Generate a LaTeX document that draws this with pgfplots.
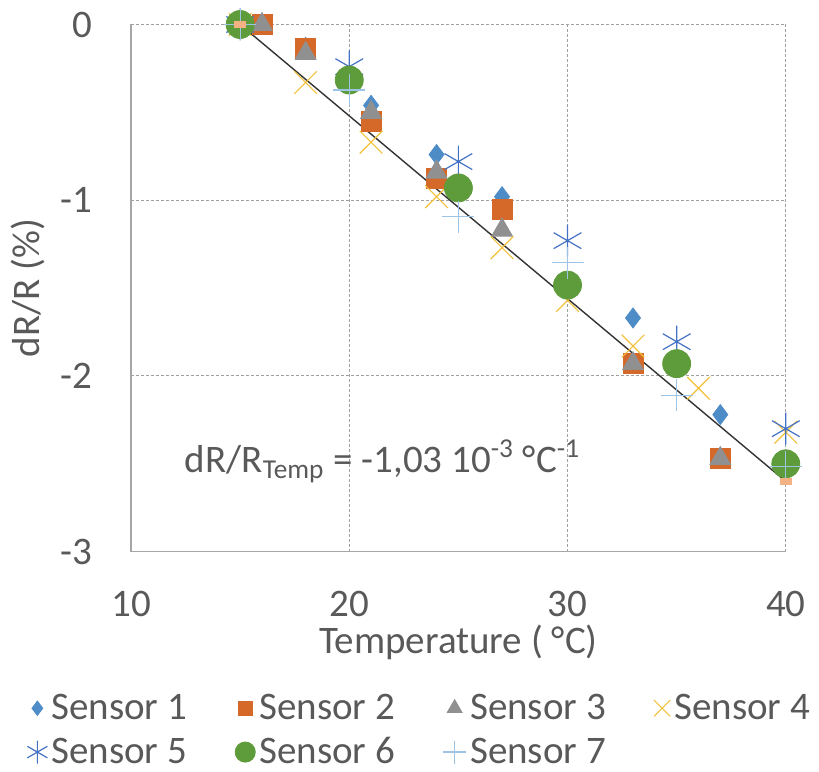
\documentclass[border=0pt]{standalone}
\usepackage{pgfplots}
\pgfplotsset{compat=1.18}
\usepackage{fontspec}
\setmainfont{Carlito}
\definecolor{txt}{HTML}{595959}
\definecolor{cA}{HTML}{4E8CC8}
\definecolor{cB}{HTML}{D5692A}
\definecolor{cC}{HTML}{909090}
\definecolor{cD}{HTML}{F2C03A}
\definecolor{cE}{HTML}{4472C4}
\definecolor{cF}{HTML}{5E9B3A}
\definecolor{cG}{HTML}{9DC3E6}
\definecolor{cP}{HTML}{F4B183}
\definecolor{gridc}{HTML}{A0A0A0}
\definecolor{axc}{HTML}{A6A6A6}
\pgfplotsset{mylegend/.style={legend image code/.code={\draw[mark repeat=2,mark phase=2,##1,mark options={scale=0.72}] plot coordinates {(0pt,0pt) (6pt,0pt) (12pt,0pt)};}}}
\begin{document}
\begin{tikzpicture}
\useasboundingbox (-65.5pt,-109.65pt) rectangle (344pt,275.85pt);
\begin{axis}[
  at={(0pt,0pt)}, anchor=south west,
  scale only axis, width=327.4pt, height=263.6pt,
  xmin=10, xmax=40, ymin=-3, ymax=0,
  clip=false,
  axis x line*=bottom, axis y line*=left,
  axis line style={axc, line width=0.75pt},
  xtick={10,20,30,40}, xticklabels={10,20,30,40},
  ytick={-3,-2,-1,0}, yticklabels={-3,-2,-1,0},
  major tick length=0pt,
  grid=major,
  major grid style={gridc, line width=0.5pt, dash pattern=on 1.5pt off 1pt},
  font=\fontsize{19.5}{23}\selectfont,
  tick label style={txt, font=\fontsize{19.5}{23}\selectfont},
  xticklabel style={anchor=center, yshift=-26pt},
  yticklabel style={anchor=east, inner sep=0pt, xshift=-19pt},
  xlabel={Temperature ( °C)},
  ylabel={dR/R (\%)},
  xlabel style={txt, at={([yshift=-45.5pt]axis description cs:0.5,0)}, anchor=center},
  ylabel style={txt, at={([xshift=-51.5pt]axis description cs:0,0.5)}, anchor=center},
  legend columns=4,
  legend cell align=left,
  legend style={draw=none, fill=none, inner sep=0pt, text=txt,
    font=\fontsize{19.5}{23}\selectfont,
    at={(0,0)}, anchor=north west, xshift=-52pt, yshift=-69pt,
    /tikz/every even column/.append style={column sep=22pt},
    row sep=3.5pt},
]
\addplot[only marks, mark=diamond*, mark size=5pt, color=cA, mylegend] coordinates {
(16,0) (18,-0.13) (21,-0.46) (24,-0.74) (27,-0.98) (33,-1.67) (37,-2.22)};
\addlegendentry{Sensor 1}
\addplot[only marks, mark=square*, mark size=5pt, color=cB, mylegend] coordinates {
(16,0) (18,-0.135) (21,-0.55) (24,-0.875) (27,-1.05) (33,-1.93) (37,-2.47)};
\addlegendentry{Sensor 2}
\addplot[only marks, mark=triangle*, mark size=6pt, color=cC, mylegend] coordinates {
(16,0) (18,-0.165) (21,-0.5) (24,-0.84) (27,-1.17) (33,-1.93) (37,-2.47)};
\addlegendentry{Sensor 3}
\addplot[only marks, mark=x, mark size=8pt, color=cD, line width=0.6pt, mylegend] coordinates {
(15,0) (18,-0.33) (21,-0.67) (24,-0.98) (27,-1.27) (30,-1.57) (33,-1.83) (36,-2.07) (40,-2.32)};
\addlegendentry{Sensor 4}
\addplot[only marks, mark=asterisk, mark size=8pt, color=cE, line width=0.6pt, mylegend] coordinates {
(15,0) (20,-0.24) (25,-0.78) (30,-1.23) (35,-1.805) (40,-2.30)};
\addlegendentry{Sensor 5}
\addplot[only marks, mark=*, mark size=7pt, color=cF, mylegend] coordinates {
(15,0) (20,-0.316) (25,-0.93) (30,-1.483) (35,-1.93) (40,-2.50)};
\addlegendentry{Sensor 6}
\addplot[only marks, mark=+, mark size=8pt, color=cG, line width=0.6pt, mylegend] coordinates {
(15,0) (20,-0.373) (25,-1.094) (30,-1.355) (35,-2.11) (40,-2.517)};
\addlegendentry{Sensor 7}
\addplot[black!80, line width=0.7pt, mark=square*, mark size=2pt,
  mark options={cP, xscale=1.4, yscale=0.7}, forget plot] coordinates {(15,0) (40,-2.6)};
\node[anchor=base west, text=txt, font=\fontsize{19.5}{23}\selectfont] at (axis cs:12.15,-2.547)
  {dR/R\textsubscript{Temp} = -1,03 10\textsuperscript{-3} °C\textsuperscript{-1}};
\end{axis}
\end{tikzpicture}
\end{document}
